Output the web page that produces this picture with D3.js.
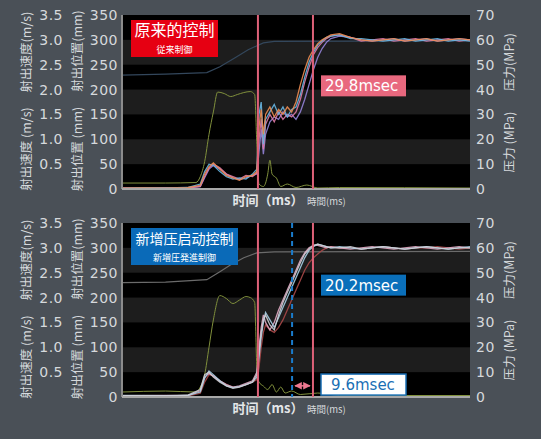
<!DOCTYPE html>
<html>
<head>
<meta charset="utf-8">
<script src="https://d3js.org/d3.v7.min.js"></script>
<style>
  body { margin: 0; background: #4a5057; }
  svg { display: block; }
  text { font-family: "DejaVu Sans", "Noto Sans CJK SC", sans-serif; }
</style>
</head>
<body>
<div id="chart"></div>
<script>
// ---- data (time in ms, position mm, speed m/s, pressure MPa) ----
var posTicks = [0, 50, 100, 150, 200, 250, 300, 350];
var speedTicks = [0.5, 1.0, 1.5, 2.0, 2.5, 3.0, 3.5];
var pressureTicks = [0, 10, 20, 30, 40, 50, 60, 70];

// pressure traces share one time grid
var prTime = [0, 10, 20, 30, 36, 38, 40, 42, 45, 48, 51, 54, 57, 60, 62, 63, 64, 65, 66, 68, 70, 72, 74, 76, 78, 80, 82, 84, 86, 88, 90, 92, 94, 96, 100, 105, 110, 115, 120, 125, 130, 135, 140, 145, 150, 155, 160];

// original control (top)
var prTopA = [0.3,0.4,0.3,0.5,1.5,6,9,10.5,8,5.5,4.5,3.5,5,5.5,7,25,32,22,30,33,29,32,30,33,31,35,42,48,53,56,58.5,60,61,62,62.5,61,60,59.5,60,60.5,59.5,60,60.5,59.5,60,60.5,60];
var prTopB = [0.2,0.5,0.4,0.6,2,7,10,9.5,7,5,4,4.5,4,6,8,30,35,18,28,31,34,30,33,29,32,33,38,45,51,55,58,59.5,61,61.5,62,60.5,60.5,60,59.5,60,60.5,59.5,60,60.5,59.5,60,59.5];
var prTopC = [0.4,0.3,0.5,0.4,1,5,8.5,10,8.5,6,5,4,5.5,5,6.5,20,28,16,26,30,27,31,28,30,29,31,36,43,49,54,57,59,60.5,61.5,62,61,59.5,60,60.5,59.5,60,60.5,59.5,60,60.5,59.5,60];
var prTopD = [0.3,0.3,0.4,0.5,1,4.5,8,9.5,8,6,4.5,3.8,4.5,5.5,6,15,24,14,22,27,29,28,31,29,30,28,31,36,42,48,53,56.5,59,60.5,61.5,61,60,59.5,60,60.5,59.5,60,60.5,59.5,60,60.5,60];

// new boost start control (bottom)
var prBotA = [0.5,0.6,0.5,0.7,3,9,10,8,6,4.5,3.5,4,5,6,9,18,26,31,33,29,27,33,38,42,46,50,54,57.5,59.5,61,61.5,61,60.5,60,60,60.5,59.5,60,60.5,60,59.5,60,60.5,60,59.5,60,60];
var prBotB = [0.4,0.5,0.6,0.5,2.5,8,9.5,8.5,6.5,5,4,4.5,5.5,6.5,10,20,28,33,30,27,30,35,39,43,47,51,55,58,60,61,61,60.5,60,60.5,60,59.5,60,60.5,60,59.5,60,60.5,60,59.5,60,60.5,60];
var prBotC = [0.6,0.5,0.4,0.6,2,7.5,10.5,9,6.5,4.5,3.8,4.2,5,6,8,16,24,30,34,31,28,32,36,40,44,48,52,56,59,60.5,61.5,61,60.5,60,60.5,60,59.5,60,60.5,60,59.5,60,60.5,60,59.5,60,60.5];
var prBotD = [0.3,0.4,0.5,0.4,1.5,6,9,8.5,6.5,5,4,4.2,5,6,7,12,20,26,29,27,26,28,31,35,39,43,47,51,54,56,57.5,59,60,60.5,60,60,59.5,60,60.5,60,59.5,60,60,60.5,60,59.5,60];

// injection position
var posTimeTop = [0, 20, 39, 45, 52, 58, 65, 70, 160];
var posTop = [229, 231, 234, 246, 264, 280, 294, 297, 298];
var posTimeBot = [0, 20, 39, 45, 50, 56, 62, 70, 160];
var posBot = [230, 231, 236, 252, 266, 280, 290, 292, 293];

// injection speed
var spTimeTop = [0, 20, 34, 36, 38, 40, 42, 44, 47, 50, 53, 56, 59, 61, 62, 63, 65, 67, 68, 69, 71, 73, 76, 80, 85, 90, 100, 160];
var spTop = [0.12,0.12,0.13,0.25,0.55,1.1,1.55,1.95,1.92,1.86,1.9,1.94,1.96,1.9,0.9,0.1,0.05,0.3,0.58,0.3,0.22,0.05,0.1,0.03,0.08,0.02,0.03,0.02];
var spTimeBot = [0, 20, 34, 36, 38, 40, 42, 45, 48, 51, 54, 57, 59, 61, 62, 63, 65, 67, 69, 71, 73, 75, 78, 82, 90, 100, 160];
var spBot = [0.1,0.12,0.1,0.2,0.45,1.0,1.55,2.04,1.98,1.88,1.95,2.02,2.0,1.9,0.6,0.3,0.22,0.15,0.25,0.1,0.2,0.08,0.12,0.05,0.08,0.03,0.03];

// markers (ms)
var redLines = [62.5, 87.8];
var blueLine = 78.2;

// ---- layout ----
var W = 541, H = 439;
var left = 122, plotW = 348, plotH = 174;

var svg = d3.select("#chart").append("svg")
  .attr("width", W).attr("height", H);
svg.append("rect").attr("width", W).attr("height", H).attr("fill", "#4a5057");

var x = d3.scaleLinear().domain([0, 160]).range([0, plotW]);
var yPos = d3.scaleLinear().domain([0, 350]).range([plotH, 0]);
var ySp = d3.scaleLinear().domain([0, 3.5]).range([plotH, 0]);
var yPr = d3.scaleLinear().domain([0, 70]).range([plotH, 0]);

function zip(t, v) { return t.map(function (d, i) { return [d, v[i]]; }); }

function panel(top, opt) {
  var g = svg.append("g").attr("transform", "translate(" + left + "," + top + ")");

  // striped background
  g.append("rect").attr("width", plotW).attr("height", plotH).attr("fill", "#000");
  g.selectAll(".band")
    .data([50, 150, 250])
    .enter().append("rect")
    .attr("x", 0).attr("width", plotW)
    .attr("y", function (d) { return yPos(d + 50); })
    .attr("height", function (d) { return yPos(d) - yPos(d + 50); })
    .attr("fill", "#1d1d1d");

  // position line
  g.append("path")
    .datum(zip(opt.posT, opt.pos))
    .attr("fill", "none").attr("stroke", opt.posColor).attr("stroke-width", 1.2)
    .attr("d", d3.line().x(function (d) { return x(d[0]); }).y(function (d) { return yPos(d[1]); }));

  // speed line
  g.append("path")
    .datum(zip(opt.spT, opt.sp))
    .attr("fill", "none").attr("stroke", "#80903c").attr("stroke-width", 1)
    .attr("d", d3.line().curve(d3.curveMonotoneX).x(function (d) { return x(d[0]); }).y(function (d) { return ySp(d[1]); }));

  // pressure traces
  var prLine = d3.line().x(function (d) { return x(d[0]); }).y(function (d) { return yPr(d[1]); });
  opt.traces.forEach(function (tr, i) {
    g.append("path")
      .datum(zip(prTime, tr))
      .attr("fill", "none").attr("stroke", opt.colors[i])
      .attr("stroke-width", 1.3).attr("stroke-opacity", 0.9)
      .attr("d", prLine);
  });

  // frame lines
  g.append("line").attr("x1", 0).attr("x2", 0).attr("y1", 0).attr("y2", plotH)
    .attr("stroke", "#8c8c8c").attr("stroke-width", 2);
  g.append("line").attr("x1", 0).attr("x2", plotW).attr("y1", plotH).attr("y2", plotH)
    .attr("stroke", "#a8a8a8").attr("stroke-width", 2);

  // markers
  g.selectAll(".red")
    .data(redLines)
    .enter().append("line")
    .attr("x1", function (d) { return x(d); }).attr("x2", function (d) { return x(d); })
    .attr("y1", 0).attr("y2", plotH)
    .attr("stroke", "#dd6178").attr("stroke-width", 2);

  if (opt.blue) {
    g.append("line")
      .attr("x1", x(blueLine)).attr("x2", x(blueLine))
      .attr("y1", 0).attr("y2", plotH)
      .attr("stroke", "#1a7ccc").attr("stroke-width", 2)
      .attr("stroke-dasharray", "5,4");
    var ay = yPr(4.5);
    g.append("line")
      .attr("x1", x(blueLine) + 3).attr("x2", x(redLines[1]) - 3)
      .attr("y1", ay).attr("y2", ay)
      .attr("stroke", "#ee7890").attr("stroke-width", 1.5)
      .attr("marker-start", "url(#arrS)").attr("marker-end", "url(#arrE)");
  }

  // axes
  var aPos = svg.append("g").attr("transform", "translate(118," + top + ")")
    .call(d3.axisLeft(yPos).tickValues(posTicks).tickSize(0).tickPadding(0));
  var aSp = svg.append("g").attr("transform", "translate(63," + top + ")")
    .call(d3.axisLeft(ySp).tickValues(speedTicks).tickFormat(d3.format(".1f")).tickSize(0).tickPadding(0));
  var aPr = svg.append("g").attr("transform", "translate(476," + top + ")")
    .call(d3.axisRight(yPr).tickValues(pressureTicks).tickSize(0).tickPadding(0));
  [aPos, aSp, aPr].forEach(function (a) {
    a.select(".domain").remove();
    a.selectAll("text").attr("fill", "#d6d9dc")
      .style("font-family", "'DejaVu Sans', sans-serif")
      .style("font-size", "14px").style("letter-spacing", "0.5px");
  });

  // rotated axis titles
  function vlabel(cx, cy, txt) {
    svg.append("text")
      .attr("transform", "translate(" + cx + "," + (top + cy) + ") rotate(-90)")
      .attr("text-anchor", "middle").attr("dy", "0.35em")
      .attr("fill", "#d6d9dc")
      .style("font-family", "'Noto Sans CJK SC', sans-serif")
      .style("font-size", "12.5px")
      .text(txt);
  }
  vlabel(27, 37, "射出速度(m/s)");
  vlabel(27, 134, "射出速度 (m/s)");
  vlabel(78, 36, "射出位置(mm)");
  vlabel(78, 134, "射出位置 (mm)");
  vlabel(510, 47, "压力(MPa)");
  vlabel(510, 127, "压力 (MPa)");

  // x title
  svg.append("text")
    .attr("x", 268).attr("y", top + plotH + 16)
    .attr("text-anchor", "middle").attr("fill", "#e4e6e8")
    .style("font-family", "'Noto Sans CJK SC', sans-serif")
    .style("font-size", "13px").style("font-weight", "bold")
    .text("时间（ms）");
  svg.append("text")
    .attr("x", 307).attr("y", top + plotH + 16)
    .attr("fill", "#d6d9dc")
    .style("font-family", "'Noto Sans CJK JP', sans-serif")
    .style("font-size", "9.5px")
    .text("時間(ms)");

  // title box
  g.append("rect").attr("x", 9).attr("y", 5)
    .attr("width", opt.boxW).attr("height", 37).attr("fill", opt.boxColor);
  g.append("text").attr("x", 9 + opt.boxW / 2).attr("y", 21)
    .attr("text-anchor", "middle").attr("fill", "#fff")
    .style("font-family", "'Noto Sans CJK SC', sans-serif")
    .style("font-size", opt.titleSize + "px")
    .text(opt.title);
  g.append("text").attr("x", 9 + opt.boxW / 2).attr("y", 37.5)
    .attr("text-anchor", "middle").attr("fill", "#fff")
    .style("font-family", "'Noto Sans CJK JP', sans-serif")
    .style("font-size", "9px")
    .text(opt.subtitle);

  // msec callouts
  opt.callouts.forEach(function (c) {
    g.append("rect").attr("x", 199).attr("y", yPr(c.at) - 10.5)
      .attr("width", 85).attr("height", 21)
      .attr("fill", c.fill).attr("stroke", c.stroke || "none").attr("stroke-width", 1.5);
    g.append("text").attr("x", c.fill === "#ffffff" ? 241 : 203).attr("y", yPr(c.at))
      .attr("dy", "0.36em")
      .attr("text-anchor", c.fill === "#ffffff" ? "middle" : "start")
      .attr("fill", c.color)
      .style("font-family", "'DejaVu Sans', sans-serif")
      .style("font-size", "15px")
      .text(c.label);
  });
}

// arrow markers
var defs = svg.append("defs");
defs.append("marker").attr("id", "arrE").attr("viewBox", "0 0 10 10")
  .attr("refX", 9).attr("refY", 5).attr("markerWidth", 5).attr("markerHeight", 5)
  .attr("orient", "auto")
  .append("path").attr("d", "M0,0L10,5L0,10z").attr("fill", "#ee7890");
defs.append("marker").attr("id", "arrS").attr("viewBox", "0 0 10 10")
  .attr("refX", 1).attr("refY", 5).attr("markerWidth", 5).attr("markerHeight", 5)
  .attr("orient", "auto")
  .append("path").attr("d", "M10,0L0,5L10,10z").attr("fill", "#ee7890");

panel(15, {
  posT: posTimeTop, pos: posTop, posColor: "#33475c",
  spT: spTimeTop, sp: spTop,
  traces: [prTopD, prTopC, prTopB, prTopA],
  colors: ["#9583d8", "#de7aa6", "#67b6e2", "#ec8c52"],
  blue: false,
  boxW: 87, boxColor: "#e60012", titleSize: 16,
  title: "原来的控制", subtitle: "従来制御",
  callouts: [{ at: 41.5, label: "29.8msec", fill: "#e8687e", color: "#ffffff" }]
});

panel(223, {
  posT: posTimeBot, pos: posBot, posColor: "#6b6b6b",
  spT: spTimeBot, sp: spBot,
  traces: [prBotD, prBotB, prBotC, prBotA],
  colors: ["#a84848", "#e0a9c2", "#a6cfe6", "#cfcfd6"],
  blue: true,
  boxW: 107, boxColor: "#0a6ab8", titleSize: 14,
  title: "新增压启动控制", subtitle: "新増圧発進制御",
  callouts: [
    { at: 45, label: "20.2msec", fill: "#0a6fba", color: "#ffffff" },
    { at: 5, label: "9.6msec", fill: "#ffffff", stroke: "#1a6fb5", color: "#1a6fb5" }
  ]
});
</script>
</body>
</html>
